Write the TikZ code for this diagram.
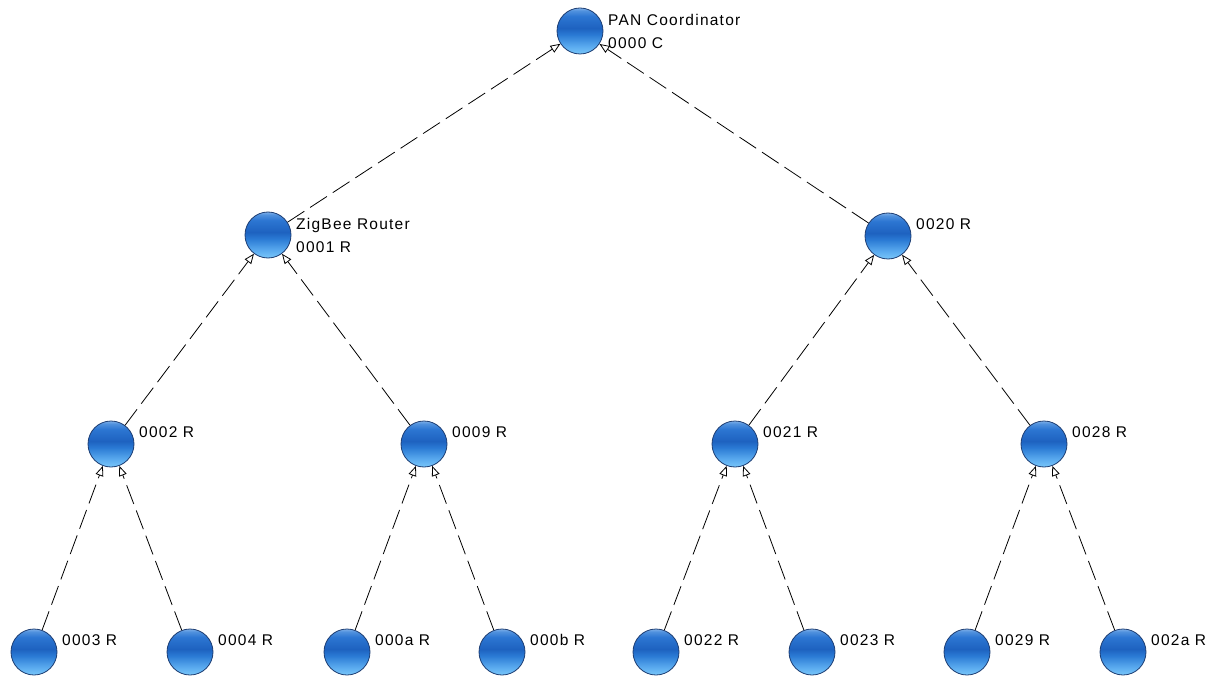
\documentclass[tikz,border=0pt]{standalone}
\usepackage{fontspec}
\setmainfont{Liberation Sans}[LetterSpace=8.0]
\usetikzlibrary{arrows.meta,calc}
\definecolor{ballEdge}{RGB}{30,62,115}
\definecolor{gA}{RGB}{120,198,248}
\definecolor{gB}{RGB}{92,172,240}
\definecolor{gC}{RGB}{42,122,212}
\definecolor{gD}{RGB}{30,98,192}
\definecolor{gE}{RGB}{44,118,210}
\definecolor{gF}{RGB}{80,145,222}
\definecolor{gG}{RGB}{125,175,232}
\pgfdeclareverticalshading{glossy}{100bp}{%
  color(0bp)=(gA);
  color(25bp)=(gA);
  color(33bp)=(gB);
  color(46bp)=(gC);
  color(53bp)=(gD);
  color(66bp)=(gE);
  color(72bp)=(gF);
  color(75bp)=(gG);
  color(100bp)=(gG)}
\tikzset{
  dev/.style={circle, minimum size=46pt, inner sep=0pt, draw=ballEdge, line width=0.8pt,
    shading=glossy},
  lbl/.style={anchor=west, inner sep=0pt, align=left, font=\fontsize{15.5}{23}\selectfont},
  link/.style={draw=black, line width=0.8pt, dash pattern=on 20pt off 7pt,
    -{Triangle[open,length=10pt,width=8pt,fill=white]}}
}
\begin{document}
\begin{tikzpicture}[x=1pt,y=-1pt]
\useasboundingbox (0,0) rectangle (1217,676);
% nodes
\node[dev] (n0000) at (580,31) {};
\node[dev] (n0001) at (268,235) {};
\node[dev] (n0020) at (888,236) {};
\node[dev] (n0002) at (111,444) {};
\node[dev] (n0009) at (424,444) {};
\node[dev] (n0021) at (735,444) {};
\node[dev] (n0028) at (1044,444) {};
\node[dev] (n0003) at (34,652) {};
\node[dev] (n0004) at (190,652) {};
\node[dev] (n000a) at (347,652) {};
\node[dev] (n000b) at (502,652) {};
\node[dev] (n0022) at (656,652) {};
\node[dev] (n0023) at (812,652) {};
\node[dev] (n0029) at (967,652) {};
\node[dev] (n002a) at (1123,652) {};
% labels
\node[lbl] (t0000) at ($(n0000.center)+(28,0)$) {PAN Coordinator\\0000 C};
\node[lbl] (t0001) at ($(n0001.center)+(28,0)$) {ZigBee Router\\0001 R};
\node[lbl] (t0020) at ($(n0020.center)+(28,-12)$) {0020 R};
\node[lbl] (t0002) at ($(n0002.center)+(28,-12)$) {0002 R};
\node[lbl] (t0009) at ($(n0009.center)+(28,-12)$) {0009 R};
\node[lbl] (t0021) at ($(n0021.center)+(28,-12)$) {0021 R};
\node[lbl] (t0028) at ($(n0028.center)+(28,-12)$) {0028 R};
\node[lbl] (t0003) at ($(n0003.center)+(28,-12)$) {0003 R};
\node[lbl] (t0004) at ($(n0004.center)+(28,-12)$) {0004 R};
\node[lbl] (t000a) at ($(n000a.center)+(28,-12)$) {000a R};
\node[lbl] (t000b) at ($(n000b.center)+(28,-12)$) {000b R};
\node[lbl] (t0022) at ($(n0022.center)+(28,-12)$) {0022 R};
\node[lbl] (t0023) at ($(n0023.center)+(28,-12)$) {0023 R};
\node[lbl] (t0029) at ($(n0029.center)+(28,-12)$) {0029 R};
\node[lbl] (t002a) at ($(n002a.center)+(28,-12)$) {002a R};
% links child -> parent
\draw[link] (n0001) -- (n0000);
\draw[link] (n0020) -- (n0000);
\draw[link] (n0002) -- (n0001);
\draw[link] (n0009) -- (n0001);
\draw[link] (n0021) -- (n0020);
\draw[link] (n0028) -- (n0020);
\draw[link] (n0003) -- (n0002);
\draw[link] (n0004) -- (n0002);
\draw[link] (n000a) -- (n0009);
\draw[link] (n000b) -- (n0009);
\draw[link] (n0022) -- (n0021);
\draw[link] (n0023) -- (n0021);
\draw[link] (n0029) -- (n0028);
\draw[link] (n002a) -- (n0028);
\end{tikzpicture}
\end{document}
